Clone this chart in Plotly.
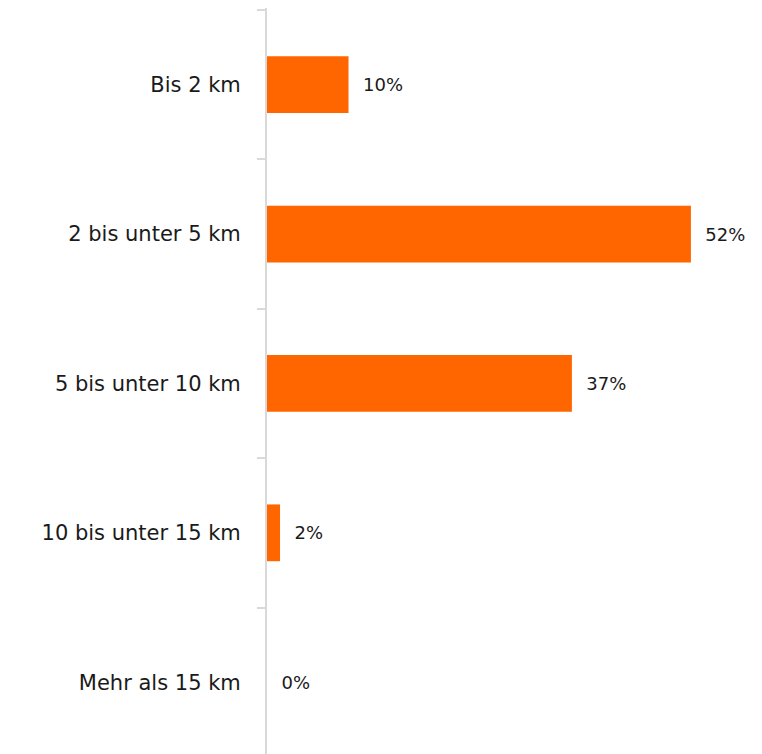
import plotly.graph_objects as go

categories = ["Bis 2 km", "2 bis unter 5 km", "5 bis unter 10 km", "10 bis unter 15 km", "Mehr als 15 km"]
values = [10.0, 52.0, 37.4, 1.6, 0.0]

fig = go.Figure(go.Bar(
    y=categories, x=values, orientation="h",
    marker=dict(color="#FF6600", line=dict(width=0)),
    width=0.38,
    texttemplate="\u00a0\u00a0%{x:.0f}%",
    textposition="outside",
    cliponaxis=False,
    textfont=dict(family="DejaVu Sans", size=18, color="#1a1a1a"),
))

fig.update_layout(
    width=762, height=754,
    margin=dict(l=259, r=0, t=0, b=0),
    plot_bgcolor="white", paper_bgcolor="white",
    showlegend=False,
    xaxis=dict(range=[0, 61.7], visible=False, fixedrange=True),
    yaxis=dict(
        type="category",
        range=[4.534, -0.513],
        showline=True, linecolor="#d9d9d9", linewidth=2,
        ticks="outside", tickson="boundaries", ticklen=8, tickcolor="#d9d9d9", tickwidth=2,
        ticklabelstandoff=20,
        tickfont=dict(family="DejaVu Sans", size=21, color="#1a1a1a"),
        showgrid=False, zeroline=False,
    ),
)

fig.write_html("out.html")
